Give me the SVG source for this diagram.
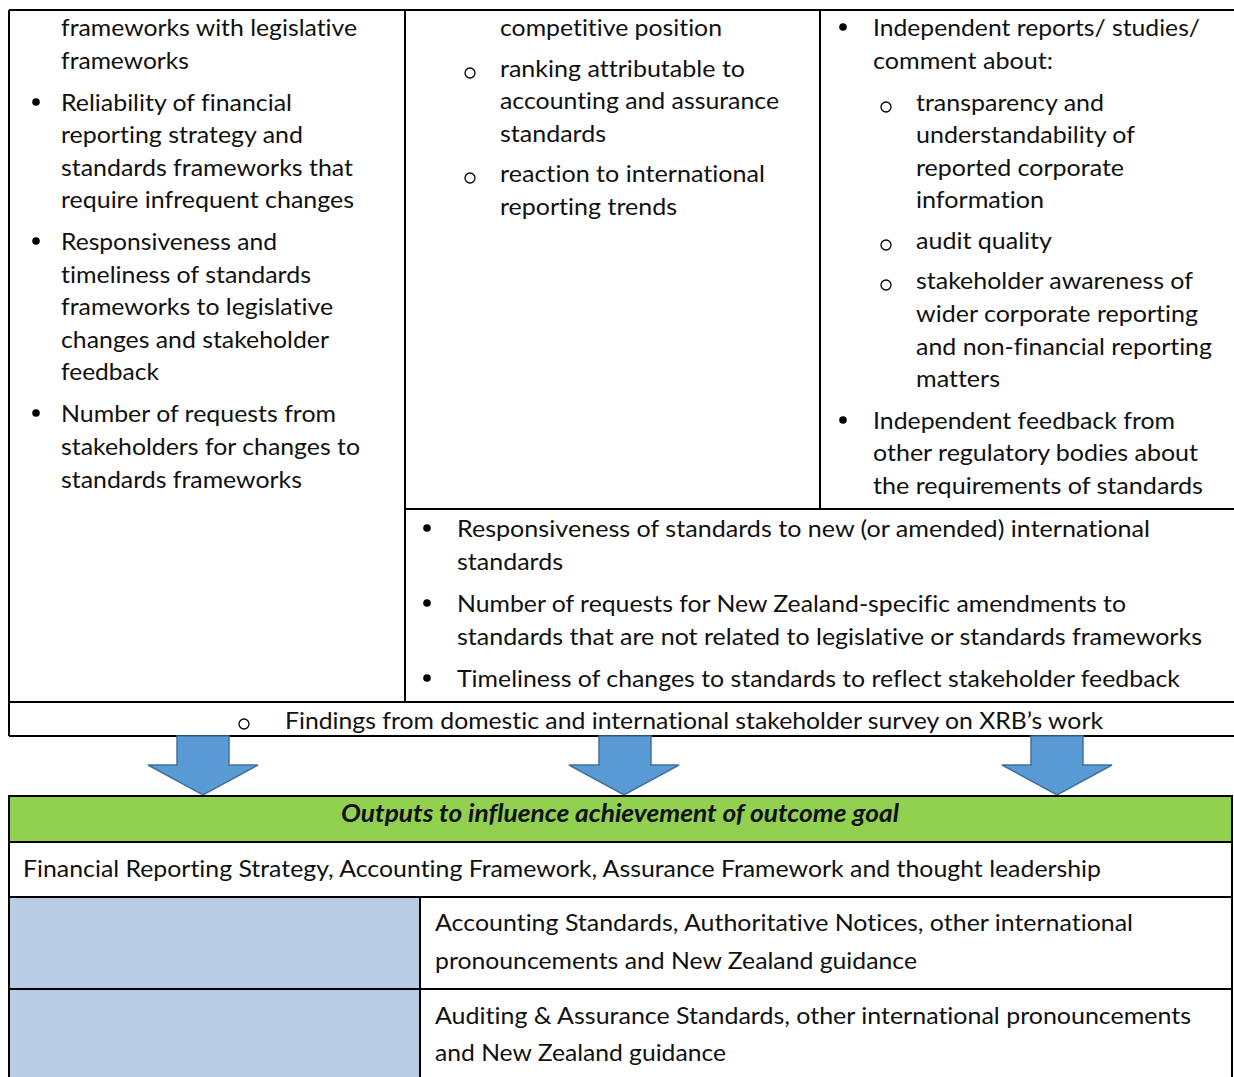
<svg xmlns="http://www.w3.org/2000/svg" width="1234" height="1077" viewBox="0 0 1234 1077">
  <style>
    text { font-family: Lato, "Open Sans", "Liberation Sans", sans-serif; font-size: 24px; fill: #111; font-variant-ligatures: none; }
    .title { font-weight: bold; font-style: italic; }
    .rule { stroke: #000; stroke-width: 2; fill: none; }
    .dot { fill: #000; }
    .ring { fill: none; stroke: #000; stroke-width: 1.3; }
    .arrow { fill: #5B9BD5; stroke: #41719C; stroke-width: 1.5; }
  </style>

  <!-- measures table: grid -->
  <g id="measures-grid">
    <rect x="0" y="0" width="1234" height="1077" fill="#fff"/>
    <line class="rule" x1="9" y1="10" x2="1234" y2="10"/>
    <line class="rule" x1="9" y1="10" x2="9" y2="736"/>
    <line class="rule" x1="405" y1="10" x2="405" y2="702"/>
    <line class="rule" x1="820" y1="10" x2="820" y2="509"/>
    <line class="rule" x1="405" y1="509" x2="1234" y2="509"/>
    <line class="rule" x1="9" y1="702" x2="1234" y2="702"/>
    <line class="rule" x1="9" y1="736" x2="1234" y2="736"/>
  </g>

  <!-- left column -->
  <g id="cell-left">
    <text x="61" y="36" textLength="296" lengthAdjust="spacingAndGlyphs">frameworks with legislative</text>
    <text x="61" y="69" textLength="128" lengthAdjust="spacingAndGlyphs">frameworks</text>
    <circle class="dot" cx="36" cy="102" r="3.8"/>
    <text x="61" y="111" textLength="231" lengthAdjust="spacingAndGlyphs">Reliability of financial</text>
    <text x="61" y="143" textLength="242" lengthAdjust="spacingAndGlyphs">reporting strategy and</text>
    <text x="61" y="176" textLength="292" lengthAdjust="spacingAndGlyphs">standards frameworks that</text>
    <text x="61" y="208" textLength="293" lengthAdjust="spacingAndGlyphs">require infrequent changes</text>
    <circle class="dot" cx="36" cy="241" r="3.8"/>
    <text x="61" y="250" textLength="216" lengthAdjust="spacingAndGlyphs">Responsiveness and</text>
    <text x="61" y="283" textLength="250" lengthAdjust="spacingAndGlyphs">timeliness of standards</text>
    <text x="61" y="315" textLength="272" lengthAdjust="spacingAndGlyphs">frameworks to legislative</text>
    <text x="61" y="348" textLength="268" lengthAdjust="spacingAndGlyphs">changes and stakeholder</text>
    <text x="61" y="380" textLength="98" lengthAdjust="spacingAndGlyphs">feedback</text>
    <circle class="dot" cx="36" cy="413" r="3.8"/>
    <text x="61" y="422" textLength="275" lengthAdjust="spacingAndGlyphs">Number of requests from</text>
    <text x="61" y="455" textLength="299" lengthAdjust="spacingAndGlyphs">stakeholders for changes to</text>
    <text x="61" y="488" textLength="241" lengthAdjust="spacingAndGlyphs">standards frameworks</text>
  </g>

  <!-- middle column -->
  <g id="cell-middle">
    <text x="500" y="36" textLength="222" lengthAdjust="spacingAndGlyphs">competitive position</text>
    <circle class="ring" cx="470" cy="73" r="5"/>
    <text x="500" y="77" textLength="245" lengthAdjust="spacingAndGlyphs">ranking attributable to</text>
    <text x="500" y="109" textLength="279" lengthAdjust="spacingAndGlyphs">accounting and assurance</text>
    <text x="500" y="142" textLength="106" lengthAdjust="spacingAndGlyphs">standards</text>
    <circle class="ring" cx="470" cy="178" r="5"/>
    <text x="500" y="182" textLength="265" lengthAdjust="spacingAndGlyphs">reaction to international</text>
    <text x="500" y="215" textLength="177" lengthAdjust="spacingAndGlyphs">reporting trends</text>
  </g>

  <!-- right column -->
  <g id="cell-right">
    <circle class="dot" cx="843" cy="27" r="3.8"/>
    <text x="873" y="36" textLength="327" lengthAdjust="spacingAndGlyphs">Independent reports/ studies/</text>
    <text x="873" y="69" textLength="180" lengthAdjust="spacingAndGlyphs">comment about:</text>
    <circle class="ring" cx="886" cy="107" r="5"/>
    <text x="916" y="111" textLength="188" lengthAdjust="spacingAndGlyphs">transparency and</text>
    <text x="916" y="143" textLength="219" lengthAdjust="spacingAndGlyphs">understandability of</text>
    <text x="916" y="176" textLength="208" lengthAdjust="spacingAndGlyphs">reported corporate</text>
    <text x="916" y="208" textLength="128" lengthAdjust="spacingAndGlyphs">information</text>
    <circle class="ring" cx="886" cy="245" r="5"/>
    <text x="916" y="249" textLength="136" lengthAdjust="spacingAndGlyphs">audit quality</text>
    <circle class="ring" cx="886" cy="285" r="5"/>
    <text x="916" y="289" textLength="277" lengthAdjust="spacingAndGlyphs">stakeholder awareness of</text>
    <text x="916" y="322" textLength="282" lengthAdjust="spacingAndGlyphs">wider corporate reporting</text>
    <text x="916" y="355" textLength="296" lengthAdjust="spacingAndGlyphs">and non-financial reporting</text>
    <text x="916" y="387" textLength="84" lengthAdjust="spacingAndGlyphs">matters</text>
    <circle class="dot" cx="843" cy="420" r="3.8"/>
    <text x="873" y="429" textLength="302" lengthAdjust="spacingAndGlyphs">Independent feedback from</text>
    <text x="873" y="461" textLength="325" lengthAdjust="spacingAndGlyphs">other regulatory bodies about</text>
    <text x="873" y="494" textLength="330" lengthAdjust="spacingAndGlyphs">the requirements of standards</text>
  </g>

  <!-- lower-right cell -->
  <g id="cell-standards">
    <circle class="dot" cx="427" cy="528" r="3.8"/>
    <text x="457" y="537" textLength="693" lengthAdjust="spacingAndGlyphs">Responsiveness of standards to new (or amended) international</text>
    <text x="457" y="570" textLength="106" lengthAdjust="spacingAndGlyphs">standards</text>
    <circle class="dot" cx="427" cy="603" r="3.8"/>
    <text x="457" y="612" textLength="669" lengthAdjust="spacingAndGlyphs">Number of requests for New Zealand-specific amendments to</text>
    <text x="457" y="645" textLength="745" lengthAdjust="spacingAndGlyphs">standards that are not related to legislative or standards frameworks</text>
    <circle class="dot" cx="427" cy="678" r="3.8"/>
    <text x="457" y="687" textLength="723" lengthAdjust="spacingAndGlyphs">Timeliness of changes to standards to reflect stakeholder feedback</text>
  </g>

  <!-- survey row -->
  <g id="cell-survey">
    <circle class="ring" cx="244" cy="724" r="5"/>
    <text x="285" y="729" textLength="818" lengthAdjust="spacingAndGlyphs">Findings from domestic and international stakeholder survey on XRB’s work</text>
  </g>

  <!-- block arrows between the tables -->
  <g id="connectors">
    <path class="arrow" d="M177,736 H229 V765 H258 L203,795 L148,765 H177 Z"/>
    <path class="arrow" d="M599,736 H651 V765 H679 L624,795 L569,765 H599 Z"/>
    <path class="arrow" d="M1031,736 H1083 V765 H1112 L1057,795 L1002,765 H1031 Z"/>
  </g>

  <!-- outputs table -->
  <g id="outputs-header">
    <rect x="9" y="796" width="1223" height="46" fill="#92D050" stroke="#000" stroke-width="2"/>
    <text class="title" x="341" y="822" textLength="558" lengthAdjust="spacingAndGlyphs">Outputs to influence achievement of outcome goal</text>
  </g>
  <g id="outputs-strategy">
    <rect x="9" y="842" width="1223" height="55" fill="#fff" stroke="#000" stroke-width="2"/>
    <text x="23" y="877" textLength="1078" lengthAdjust="spacingAndGlyphs">Financial Reporting Strategy, Accounting Framework, Assurance Framework and thought leadership</text>
  </g>
  <g id="outputs-accounting">
    <rect x="9" y="897" width="411" height="92" fill="#B8CCE4" stroke="#000" stroke-width="2"/>
    <rect x="420" y="897" width="812" height="92" fill="#fff" stroke="#000" stroke-width="2"/>
    <text x="435" y="931" textLength="698" lengthAdjust="spacingAndGlyphs">Accounting Standards, Authoritative Notices, other international</text>
    <text x="435" y="969" textLength="482" lengthAdjust="spacingAndGlyphs">pronouncements and New Zealand guidance</text>
  </g>
  <g id="outputs-assurance">
    <rect x="9" y="989" width="411" height="100" fill="#B8CCE4" stroke="#000" stroke-width="2"/>
    <rect x="420" y="989" width="812" height="100" fill="#fff" stroke="#000" stroke-width="2"/>
    <text x="435" y="1024" textLength="756" lengthAdjust="spacingAndGlyphs">Auditing &amp; Assurance Standards, other international pronouncements</text>
    <text x="435" y="1061" textLength="291" lengthAdjust="spacingAndGlyphs">and New Zealand guidance</text>
  </g>
</svg>
